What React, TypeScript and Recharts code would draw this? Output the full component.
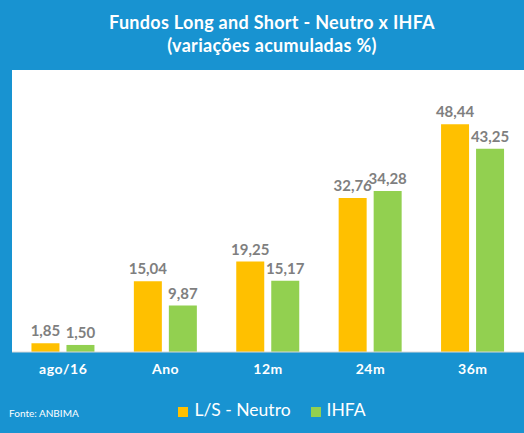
import React from "react";
import { BarChart, Bar, XAxis, YAxis, CartesianGrid, Legend, LabelList } from "recharts";

const categories = ["ago/16", "Ano", "12m", "24m", "36m"];
const neutro = [1.85, 15.04, 19.25, 32.76, 48.44];
const ihfa = [1.5, 9.87, 15.17, 34.28, 43.25];
const seriesNames = ["L/S - Neutro", "IHFA"];

const data = categories.map((name, i) => ({ name, neutro: neutro[i], ihfa: ihfa[i] }));

const BLUE = "#1893d1";
const ORANGE = "#ffc000";
const GREEN = "#92d050";
const FONT = "Lato, 'Open Sans', sans-serif";

const fmt = (v: any) => Number(v).toFixed(2).replace(".", ",");

const labelStyle = { fill: "#7f7f7f", fontSize: 15, fontWeight: 700, fontFamily: FONT };

const App = () => {
  return (
    <div
      style={{
        position: "absolute",
        left: 0,
        top: 0,
        width: 524,
        height: 433,
        background: BLUE,
        fontFamily: FONT,
      }}
    >
      <div
        style={{
          position: "absolute",
          top: 11,
          left: 16,
          width: 512,
          textAlign: "center",
          color: "#fff",
          fontWeight: 700,
          fontSize: 18,
          lineHeight: "23px",
          letterSpacing: 0.3,
        }}
      >
        Fundos Long and Short - Neutro x IHFA
        <br />
        (variações acumuladas %)
      </div>
      <div
        style={{
          position: "absolute",
          left: 9,
          top: 407,
          color: "#fff",
          fontSize: 10,
        }}
      >
        Fonte: ANBIMA
      </div>
      <BarChart
        width={524}
        height={433}
        data={data}
        margin={{ top: 70, right: 0, left: 12, bottom: 51 }}
        barGap={7}
        barCategoryGap="19%"
      >
        <CartesianGrid fill="#ffffff" horizontal={false} vertical={false} />
        <XAxis
          dataKey="name"
          height={30}
          tickLine={false}
          axisLine={{ stroke: "#d9d9d9" }}
          tickMargin={6}
          tick={{ fill: "#ffffff", fontSize: 14, fontWeight: 700, fontFamily: FONT, letterSpacing: 0.5 }}
        />
        <YAxis hide domain={[0, 60]} />
        <Legend
          layout="horizontal"
          verticalAlign="middle"
          align="center"
          iconType="square"
          iconSize={10}
          itemSorter={(item: any) => seriesNames.indexOf(item.value)}
          wrapperStyle={{ top: 399, left: 20, width: 524, fontFamily: FONT }}
          formatter={(value: string) => (
            <span style={{ color: "#ffffff", fontSize: 17.5, marginLeft: 2, marginRight: 10 }}>{value}</span>
          )}
        />
        <Bar dataKey="neutro" name={seriesNames[0]} fill={ORANGE} isAnimationActive={false}>
          <LabelList dataKey="neutro" position="top" offset={7} formatter={fmt} style={labelStyle} />
        </Bar>
        <Bar dataKey="ihfa" name={seriesNames[1]} fill={GREEN} isAnimationActive={false}>
          <LabelList dataKey="ihfa" position="top" offset={7} formatter={fmt} style={labelStyle} />
        </Bar>
      </BarChart>
    </div>
  );
};

export default App;
